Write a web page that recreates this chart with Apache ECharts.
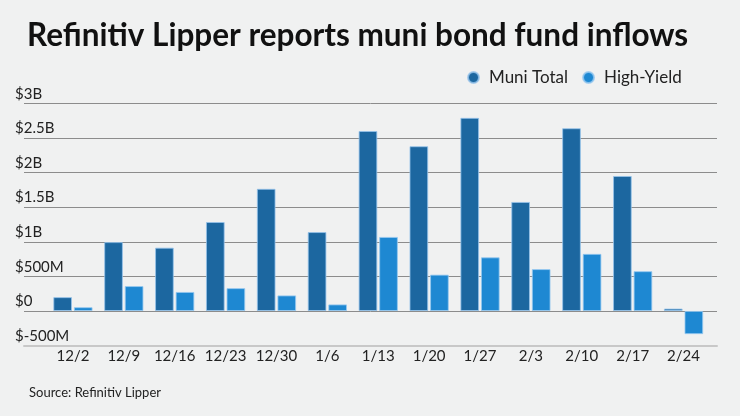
<!DOCTYPE html>
<html><head><meta charset="utf-8">
<script src="https://cdn.jsdelivr.net/npm/echarts@6/dist/echarts.min.js"></script>
<style>html,body{margin:0;padding:0;background:#f0f1f1;}#c{width:740px;height:416px;}</style>
</head><body><div id="c"></div>
<script>
const categories = ['12/2','12/9','12/16','12/23','12/30','1/6','1/13','1/20','1/27','2/3','2/10','2/17','2/24'];
const muniTotal = [200, 995, 915, 1285, 1765, 1140, 2600, 2380, 2790, 1575, 2640, 1950, 35];
const highYield = [55, 360, 275, 330, 225, 95, 1070, 525, 775, 605, 825, 575, -335];
const yTicks = {min: -500, max: 3000, interval: 500};
const FONT = 'Lato';

function fmt(v){
  if (v === 0) return '$0';
  if (Math.abs(v) >= 1000) return '$' + (v/1000) + 'B';
  return '$' + v + 'M';
}

const chart = echarts.init(document.getElementById('c'), null, {renderer:'canvas'});
chart.setOption({
  backgroundColor: '#f0f1f1',
  animation: false,
  textStyle: {fontFamily: FONT},
  title: [{
    text: 'Refinitiv Lipper reports muni bond fund inflows',
    left: 22, top: 15,
    textStyle: {fontFamily: FONT, fontWeight: 'bold', fontSize: 31.5, color: '#111'}
  },{
    text: 'Source: Refinitiv Lipper',
    left: 24, top: 381,
    textStyle: {fontFamily: FONT, fontWeight: 'normal', fontSize: 13, color: '#222'}
  }],
  legend: {
    left: 462, top: 64,
    icon: 'circle', itemWidth: 11, itemHeight: 11, itemGap: 14,
    textStyle: {fontFamily: FONT, fontSize: 17, color: '#222', padding: [0,0,0,5]},
    data: ['Muni Total','High-Yield']
  },
  grid: [
    {left: 24, right: 23, top: 103.3, bottom: 70.4},
    {left: 47.5, right: 31, top: 103.3, bottom: 70.4}
  ],
  xAxis: [
    {gridIndex: 0, type: 'value', show: true, min: 0, max: 1,
     axisLine: {show: true, onZero: false, lineStyle: {color: '#c8c8c8', width: 2}},
     axisTick: {show: false}, axisLabel: {show: false}, splitLine: {show: false}},
    {gridIndex: 1, type: 'category', data: categories,
     axisLine: {show: false}, axisTick: {show: false},
     axisLabel: {interval: 0, fontFamily: FONT, fontSize: 15, color: '#222', margin: 3}}
  ],
  yAxis: [
    {gridIndex: 0, type: 'value', min: yTicks.min, max: yTicks.max, interval: yTicks.interval,
     axisLine: {show: false}, axisTick: {show: false},
     axisLabel: {fontFamily: FONT, fontSize: 15, color: '#222', align: 'left', verticalAlign: 'bottom',
                 margin: 9, padding: [0,0,2,0], formatter: fmt},
     splitLine: {lineStyle: {color: ['#c8c8c8','#8c8c8c','#8c8c8c','#8c8c8c','#8c8c8c','#8c8c8c','#8c8c8c','#8c8c8c'], width: 1}}},
    {gridIndex: 1, type: 'value', min: yTicks.min, max: yTicks.max, interval: yTicks.interval,
     show: false, splitLine: {show: false}}
  ],
  series: [
    {name: 'Muni Total', type: 'bar', xAxisIndex: 1, yAxisIndex: 1, data: muniTotal,
     barWidth: 18.7, barGap: '10%',
     itemStyle: {color: '#1c67a0', borderColor: 'rgba(150,195,235,0.8)', borderWidth: 1}},
    {name: 'High-Yield', type: 'bar', xAxisIndex: 1, yAxisIndex: 1, data: highYield,
     barWidth: 18.7, barGap: '10%',
     itemStyle: {color: '#1e88d2', borderColor: 'rgba(150,200,240,0.8)', borderWidth: 1}}
  ]
});
</script></body></html>
